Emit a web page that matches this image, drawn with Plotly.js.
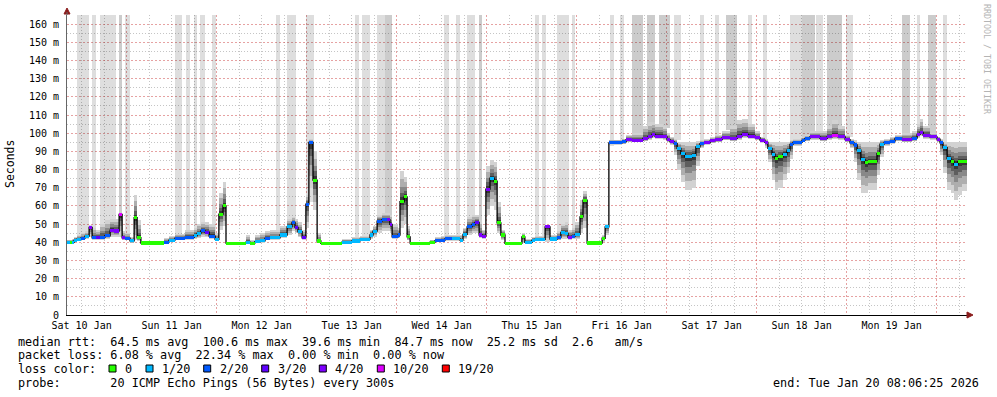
<!DOCTYPE html>
<html><head><meta charset="utf-8">
<script src="https://cdn.plot.ly/plotly-3.0.1.min.js"></script>
<style>html,body{margin:0;padding:0;background:#fff}#chart{width:997px;height:397px}</style>
</head><body><div id="chart"></div>
<script>
// ---------- DATA ----------
const startTime = [2026, 0, 10, 8, 6, 25];   // graph start (end = Tue Jan 20 08:06:25 2026)
const spanHours = 240;
// start of each step of the median, in hours after the graph start
const segHour = [0,0.8,1.3,1.9,2.7,3.7,4.8,5.9,6.7,7.7,8.8,10.1,11.5,12.5,13.9,14.7,15.5,16.8,17.9,18.7,19.7,25.9,27.2,28.8,31.5,33.9,34.7,35.7,36.8,37.9,39.5,40.5,41.6,42.4,47.7,48.8,50.1,51.5,52.8,54.1,56.8,58.7,60.0,60.8,61.6,62.7,63.7,64.5,65.6,66.7,67.7,73.3,76.0,78.1,80.8,81.6,82.7,84.0,85.3,86.1,86.7,88.3,88.8,89.9,90.7,91.5,96.8,98.1,99.7,100.8,102.7,104.8,105.6,106.7,108.0,108.8,109.9,110.7,111.7,112.8,113.9,114.7,115.7,116.8,121.3,122.1,124.0,124.8,127.5,128.8,130.7,131.7,132.8,133.6,134.7,135.5,136.8,137.6,138.7,142.7,143.5,144.5,148.0,149.1,150.7,153.6,154.9,156.0,156.8,158.9,160.0,160.8,161.9,162.7,163.7,164.8,166.7,167.7,168.8,169.9,171.5,172.8,174.7,176.8,178.7,180.0,181.6,183.5,184.8,186.1,186.9,188.0,188.8,189.6,190.9,192.0,192.8,193.6,196.0,196.8,198.1,200.8,202.7,204.0,205.6,207.5,208.8,209.9,210.7,211.7,212.8,213.6,216.0,216.8,217.9,219.5,220.8,222.7,225.3,226.7,227.5,228.3,230.1,232.0,232.8,233.6,234.7,235.7,236.5,237.6,238.7];
// median rtt (ms)
const medianMs = [40.0,40.0,40.0,41.2,41.7,42.3,43.4,48.2,42.5,42.5,42.7,43.6,46.7,46.2,55.3,42.5,42.2,40.8,53.5,42.5,39.6,40.1,41.2,42.2,42.7,43.6,44.9,46.3,45.6,43.4,41.6,55.5,60.0,39.5,40.0,39.5,40.3,40.8,42.1,42.5,44.0,48.5,50.9,48.2,45.8,42.5,61.0,94.9,74.2,40.7,39.4,40.0,40.7,41.6,44.0,46.1,51.6,52.5,52.5,49.8,43.0,44.0,62.3,65.0,43.0,39.5,40.0,40.8,41.2,41.9,41.9,41.2,44.3,48.5,49.8,50.9,44.0,43.4,69.2,75.3,73.6,50.7,44.0,39.4,43.0,40.0,41.2,41.6,48.5,41.8,42.7,45.4,44.9,42.7,43.4,44.3,54.0,63.2,39.6,42.2,48.5,94.7,95.2,96.5,96.2,97.1,98.0,99.3,98.4,98.0,96.5,95.2,94.3,91.6,88.8,87.0,87.9,92.5,94.3,94.7,95.8,96.5,97.6,97.1,98.4,99.3,98.4,97.6,96.2,94.9,91.6,88.5,86.1,87.0,88.5,90.7,93.8,94.9,96.2,97.1,98.0,97.1,98.0,98.7,98.0,96.5,94.7,93.5,90.7,85.5,83.7,84.4,88.8,94.0,94.9,95.6,97.1,96.5,97.3,99.3,100.4,98.9,98.0,96.7,94.7,92.1,86.1,84.6,82.9,84.4,84.6];
// loss class index into lossLabels
const lossIdx = [1,0,1,1,1,2,1,4,2,3,2,2,4,4,5,4,2,1,0,0,0,2,1,2,2,1,1,2,3,2,1,0,0,0,1,0,1,1,2,1,1,1,2,3,1,3,2,2,0,0,0,1,1,1,1,1,2,2,4,4,2,2,0,0,0,0,0,2,2,2,1,1,1,2,2,3,4,4,4,1,0,0,0,0,0,1,1,1,4,1,2,1,1,4,2,1,0,0,0,0,1,2,2,4,4,4,4,4,4,4,4,4,2,1,1,1,1,1,2,4,4,4,4,4,4,4,4,4,4,4,1,1,0,0,1,1,2,2,2,2,4,4,4,5,4,4,2,2,1,1,0,0,0,1,2,2,2,4,2,4,4,4,4,4,2,1,1,0,1,0,0];
// lowest and highest ping of the smoke (ms)
const smokeLo = [38.8,38.8,39,40,40.5,41,42,43,41.5,41.5,41.5,42,43,43,43,41,41,39.5,41,40.5,39.3,39.5,40,41,41.5,42,42.5,43,43,42,40.5,47,49,39.3,39,39,39.5,39.8,41,41.5,42.5,44,46,45,43,41.5,48,70,58,39.5,39.2,39.3,39.8,40.5,42,43,45,46,46,45,42,42.5,48,50,41,39.3,39.5,40,40.3,40.8,40.8,40.3,42,44,45,45,42.5,42,55,60,58,45,41,39.2,39.5,39.5,40,40.5,40,40.5,41,42,42,41.5,42,42,45,48,39.3,40,44,93.5,93.8,95,95,95.5,96.5,97.5,97,96.5,95,93.5,88,80,73,69,70,82,92,93.5,94.5,95,96,95.5,96.5,97.5,97,96,94.5,92,84,74,69,70,74,78,86,93,95,95.5,96.5,95.5,96.5,97,96.5,95,92,84,74,67,67,69,77,87,93,94,95.5,95,95.5,97.5,98.5,97,96.5,95,88,78,69,67,63,66,68];
const smokeHi = [41.5,41.5,42,43,44,45,46,49.5,48,47,50,52,53,53,56,46,45,43,66,52,40.2,42.5,43.5,44.5,46.5,48,50,51,51,50,45,67,73,40.2,44,41,44,45,46,46.5,49,53,54,53,51,47,66,97,90,45,40,42,43,43.5,47,49,55,56,56,55,50,48,79,76,49,40.2,41.5,43,43.5,44,44,44,48,54,55,55,52,47,82,85,84,62,47,40,45,42,43,43.5,49.5,44,46,50,51,47,48,51,63,68,40.5,44,50,96.5,97,99,100,104,106,106,105,104,100,98,97,95,95,95,95,95.5,96,97,98,99,101,104,107,108,105,101,98,97,95,95,95,95,95,95,96,97,98,99,101,101,104,107,104,99,97,96,95,95,95,95,95,96,97,98,99,100,101,105,108,104,100,98,97,95,95,95,95,95,95];
// pings beyond the top of the graph (light / darker columns)
const outStart = [2.7,6.7,8.8,13.9,15.5,28.8,31.7,33.9,35.5,38.7,55.7,58.7,63.7,76.8,78.7,82.7,84.8,100.5,103.7,106.7,109.9,124.8,126.7,130.7,134.7,144.8,147.5,150.7,154.7,157.9,161.9,168.8,172.8,175.7,181.6,185.6,192.8,196.0,199.7,202.7,207.7,222.7,226.7,229.6,233.6];
const outEnd   = [5.9,7.7,13.1,14.7,16.8,30.7,32.8,34.7,36.8,39.7,56.8,61.1,65.9,77.9,80.8,84.8,86.7,101.9,104.8,108.8,110.7,125.9,127.7,133.9,135.5,145.9,148.5,153.6,156.8,160.8,163.7,169.9,173.9,178.7,182.7,186.7,196.0,199.5,201.6,206.7,209.6,224.8,227.5,231.7,234.7];
const outBase  = [43,44,47,50,44,43,44,46,48,45,45,50,62,43,43,53,53,43,43,50,50,42,42,46,48,93,95,100,104,103,96,96,98,102,101,97,96,98,99,103,98,100,103,100,95];
const outShade = [0,0,0,1,0,0,0,0,0,0,0,0,0,0,0,0,1,0,0,0,1,0,0,0,0,0,0,1,1,1,0,0,0,1,0,0,0,1,0,1,0,1,0,1,0];
const lossLabels = ['0','1/20','2/20','3/20','4/20','10/20','19/20'];
const lossColors = ['#26ff00','#00b8ff','#0059ff','#5e00ff','#7e00ff','#dd00ff','#ff0000'];
const yTicks = [0,10,20,30,40,50,60,70,80,90,100,110,120,130,140,150,160];
const statLines = [
  'median rtt:  64.5 ms avg  100.6 ms max  39.6 ms min  84.7 ms now  25.2 ms sd  2.6   am/s',
  'packet loss: 6.08 % avg  22.34 % max  0.00 % min  0.00 % now',
  'loss color:',
  'probe:       20 ICMP Echo Pings (56 Bytes) every 300s'
];
const endText = 'end: Tue Jan 20 08:06:25 2026';

// ---------- helpers ----------
const T0 = Date.UTC(...startTime);
const ts = h => new Date(T0 + h * 3600000).toISOString().slice(0, 19).replace('T', ' ');
const nb = s => s.replace(/ /g, '\u00a0');
const px2x = p => (p - 67) / 900;
const py2y = p => (315 - p) / 300;
const FONT = 'DejaVu Sans Mono, monospace';

const segEnd = segHour.slice(1).concat([spanHours]);
const xc = segHour.map((h, i) => ts((h + segEnd[i]) / 2));
const wd = segHour.map((h, i) => (segEnd[i] - h) * 3600000);

const traces = [];
// outlier columns (base x axis, drawn lowest)
traces.push({
  type: 'bar', xaxis: 'x', yaxis: 'y',
  x: outStart.map((s, i) => ts((s + outEnd[i]) / 2)),
  width: outStart.map((s, i) => (outEnd[i] - s) * 3600000),
  base: outBase, y: outBase.map(b => 175 - b),
  marker: {color: outShade.map(s => s ? 'rgba(0,0,0,0.2)' : 'rgba(0,0,0,0.13)'), line: {width: 0}},
  hoverinfo: 'skip'
});
// smoke
const layers = [[1, '#d2d2d2'], [0.75, '#aeaeae'], [0.5, '#888888'], [0.3, '#5e5e5e'], [0.14, '#363636']];
layers.forEach(([f, c]) => traces.push({
  type: 'bar', xaxis: 'x2', yaxis: 'y', x: xc, width: wd,
  base: medianMs.map((m, i) => m - (m - smokeLo[i]) * f),
  y: medianMs.map((m, i) => (smokeHi[i] - smokeLo[i]) * f),
  marker: {color: c, line: {width: 0}}, hoverinfo: 'skip'
}));
// median step line (black verticals)
traces.push({
  type: 'scatter', mode: 'lines', xaxis: 'x2', yaxis: 'y',
  x: segHour.concat([spanHours]).map(ts),
  y: medianMs.concat([medianMs[medianMs.length - 1]]),
  line: {shape: 'hv', color: '#000', width: 1.3}, hoverinfo: 'skip'
});
// coloured median segments by loss (top overlay)
traces.push({
  type: 'bar', xaxis: 'x3', yaxis: 'y', x: xc, width: wd,
  base: medianMs.map(m => m - 0.85), y: medianMs.map(() => 1.7),
  marker: {color: lossIdx.map(k => lossColors[k]), line: {width: 0}}, hoverinfo: 'skip'
});

const annotations = [];
annotations.push({xref: 'paper', yref: 'paper', x: px2x(10), y: py2y(164), text: 'Seconds', textangle: -90,
  showarrow: false, xanchor: 'center', yanchor: 'middle', font: {family: FONT, size: 11.5, color: '#000'}});
annotations.push({xref: 'paper', yref: 'paper', x: px2x(987), y: py2y(59), text: 'RRDTOOL / TOBI OETIKER', textangle: 90,
  showarrow: false, xanchor: 'center', yanchor: 'middle', font: {family: FONT, size: 8.3, color: '#b4b4b4'}});
const lineY = [341.5, 355, 369, 382.5];
statLines.forEach((s, i) => annotations.push({xref: 'paper', yref: 'paper', x: px2x(16), y: py2y(lineY[i]),
  text: nb(s), showarrow: false, xanchor: 'left', yanchor: 'middle', font: {family: FONT, size: 11.8, color: '#000'}}));
annotations.push({xref: 'paper', yref: 'paper', x: px2x(981), y: py2y(382.5), text: nb(endText), showarrow: false,
  xanchor: 'right', yanchor: 'middle', font: {family: FONT, size: 11.8, color: '#000'}});
const boxX = [109, 146, 203.7, 261.7, 319.3, 377.3, 442.3];
const shapes = [];
lossLabels.forEach((lab, i) => {
  shapes.push({type: 'rect', xref: 'paper', yref: 'paper', x0: px2x(boxX[i]), x1: px2x(boxX[i] + 7),
    y0: py2y(372), y1: py2y(365), fillcolor: lossColors[i], line: {color: '#000', width: 1}});
  annotations.push({xref: 'paper', yref: 'paper', x: px2x(boxX[i] + 14), y: py2y(369), text: lab, showarrow: false,
    xanchor: 'left', yanchor: 'middle', font: {family: FONT, size: 11.8, color: '#000'}});
});
// axis arrows
shapes.push({type: 'path', xref: 'paper', yref: 'paper',
  path: `M ${px2x(967)} ${py2y(312)} L ${px2x(973)} ${py2y(315)} L ${px2x(967)} ${py2y(318)} Z`,
  fillcolor: '#8b1c1c', line: {color: '#8b1c1c', width: 1}});
shapes.push({type: 'path', xref: 'paper', yref: 'paper',
  path: `M ${px2x(64)} ${py2y(14)} L ${px2x(67)} ${py2y(8)} L ${px2x(70)} ${py2y(14)} Z`,
  fillcolor: '#8b1c1c', line: {color: '#8b1c1c', width: 1}});
shapes.push({type: 'line', xref: 'paper', yref: 'paper', x0: 0, x1: 0, y0: 1, y1: py2y(12),
  line: {color: '#666', width: 1}});

const range = [ts(0), ts(spanHours)];
const layout = {
  width: 997, height: 397,
  margin: {l: 67, r: 30, t: 15, b: 82, pad: 0},
  paper_bgcolor: '#fff', plot_bgcolor: '#fff',
  showlegend: false, barmode: 'overlay', bargap: 0, hovermode: false,
  xaxis: {type: 'date', range: range, showgrid: false, zeroline: false,
    tickmode: 'linear', tick0: '2026-01-10 12:00', dtick: 86400000, tickformat: '%a %d %b',
    ticks: '', ticklabelstandoff: 1,
    tickfont: {family: FONT, size: 10, color: '#000'},
    showline: true, linecolor: '#000', linewidth: 1},
  xaxis2: {type: 'date', range: range, overlaying: 'x', showticklabels: false, ticks: '',
    tickmode: 'linear', tick0: '2026-01-10', dtick: 86400000,
    showgrid: true, gridcolor: 'rgba(205,70,70,0.5)', griddash: '2px,2px', gridwidth: 1, zeroline: false,
    minor: {dtick: 21600000, tick0: '2026-01-10', showgrid: true, gridcolor: 'rgba(140,140,140,0.5)', griddash: '1px,2px', gridwidth: 1}},
  xaxis3: {type: 'date', range: range, overlaying: 'x', showticklabels: false, ticks: '', showgrid: false, zeroline: false},
  yaxis: {range: [0, 165], tickmode: 'array', tickvals: yTicks,
    ticktext: yTicks.map(v => v === 0 ? '0' : v + '\u00a0m'),
    showgrid: true, gridcolor: 'rgba(205,70,70,0.5)', griddash: '2px,2px', gridwidth: 1, zeroline: false,
    minor: {tickmode: 'array', tickvals: yTicks.map(v => v + 5), showgrid: true, gridcolor: 'rgba(140,140,140,0.5)', griddash: '1px,2px', gridwidth: 1},
    ticks: '', ticklabelstandoff: 5,
    tickfont: {family: FONT, size: 10, color: '#000'},
    showline: true, linecolor: '#666', linewidth: 1},
  annotations: annotations, shapes: shapes
};
Plotly.newPlot('chart', traces, layout, {displayModeBar: false, staticPlot: true});
</script></body></html>
